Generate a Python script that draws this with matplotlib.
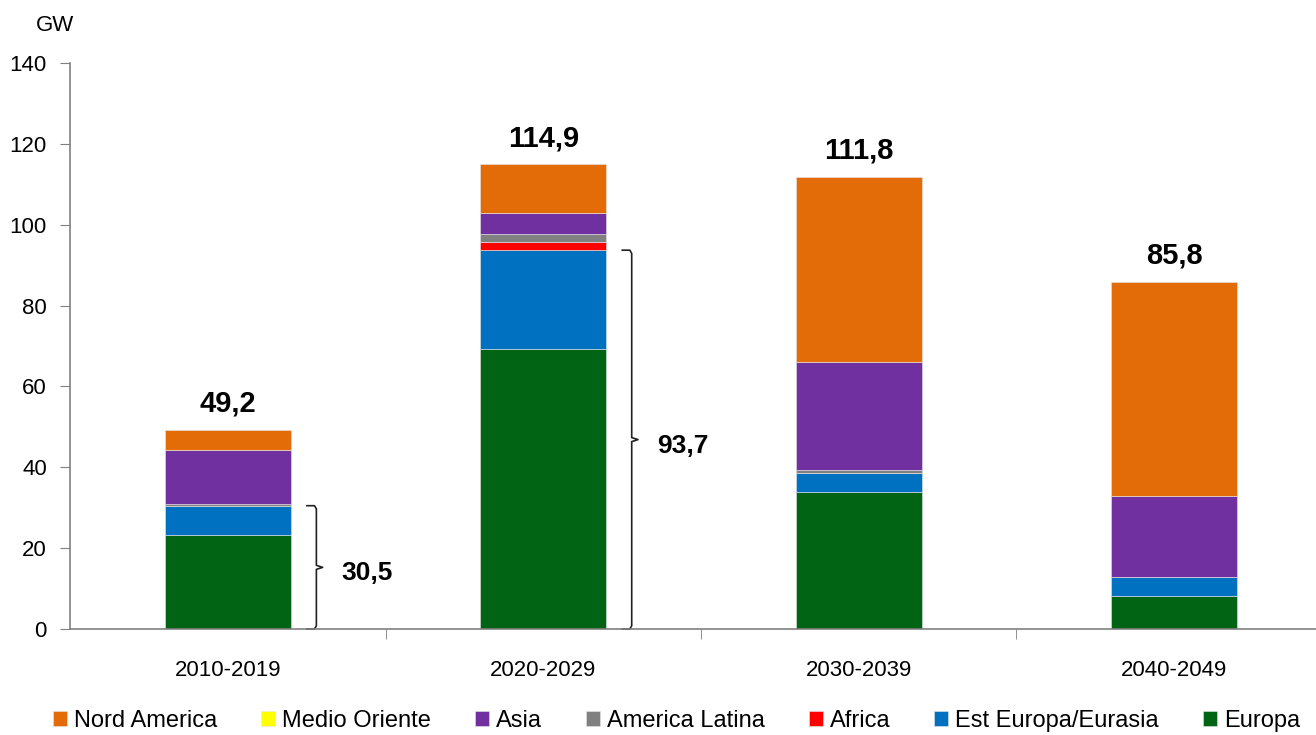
import matplotlib.pyplot as plt
import numpy as np

plt.rcParams['font.family'] = ['Liberation Sans', 'DejaVu Sans']

periods = ['2010-2019', '2020-2029', '2030-2039', '2040-2049']
regions = ['Europa', 'Est Europa/Eurasia', 'Africa', 'America Latina',
           'Asia', 'Medio Oriente', 'Nord America']
colors = ['#006414', '#0070C0', '#FF0000', '#808080',
          '#7030A0', '#FFFF00', '#E36C09']

europa = [23.3, 69.3, 33.8, 8.1]
est_europa = [7.2, 24.4, 4.7, 4.8]
africa = [0.0, 1.9, 0.0, 0.0]
america_latina = [0.4, 2.2, 0.8, 0.0]
asia = [13.5, 5.1, 26.8, 20.1]
medio_oriente = [0.0, 0.0, 0.0, 0.0]
nord_america = [4.8, 12.0, 45.7, 52.8]

totals_lbl = ['49,2', '114,9', '111,8', '85,8']
brace_idx = [0, 1]
brace_lbl = ['30,5', '93,7']

series = [europa, est_europa, africa, america_latina, asia, medio_oriente, nord_america]

fig = plt.figure(figsize=(13.16, 7.35), dpi=100)
ax = fig.add_axes([0.0535, 0.1442, 0.9465, 0.7701])

x = np.arange(len(periods))
w = 0.4
bottom = np.zeros(len(periods))
handles = {}
for name, vals, c in zip(regions, series, colors):
    vals = np.array(vals)
    b = ax.bar(x, vals, w, bottom=bottom, color=c, edgecolor='#e6e6e6',
               linewidth=0.4, label=name)
    handles[name] = b
    bottom += vals

for xi, tot, lbl in zip(x, bottom, totals_lbl):
    ax.text(xi, tot + 3, lbl, ha='center', va='bottom', fontsize=21,
            fontweight='bold')

# curly brackets next to first two bars
for i, lbl in zip(brace_idx, brace_lbl):
    top = europa[i] + est_europa[i]
    mid = top / 2
    edge = x[i] + w / 2
    xh, xv, xn = edge + 0.05, edge + 0.08, edge + 0.1
    ax.plot([xh, xv - 0.006, xv, xv, xn, xv, xv, xv - 0.006, xh],
            [top, top, top - 0.8, mid + 0.5, mid, mid - 0.5, 0.8, 0, 0],
            color='#222222', lw=1.2, clip_on=False)
    ax.text(edge + 0.16, mid - 1.5, lbl, ha='left', va='center',
            fontsize=19, fontweight='bold')

ax.set_ylim(0, 140)
ax.set_yticks(np.arange(0, 141, 20))
ax.set_xlim(-0.5, 3.45)
ax.set_xticks(x)
ax.set_xticklabels(periods, fontsize=16)
ax.set_xticks([0.5, 1.5, 2.5], minor=True)
ax.tick_params(axis='x', which='major', length=0, pad=22)
ax.tick_params(axis='x', which='minor', length=7, color='#808080')
ax.tick_params(axis='y', labelsize=16, length=7, color='#808080', pad=10)
for s in ['top', 'right']:
    ax.spines[s].set_visible(False)
for s in ['left', 'bottom']:
    ax.spines[s].set_color('#808080')
    ax.spines[s].set_linewidth(1.2)

fig.text(0.027, 0.965, 'GW', fontsize=16, ha='left', va='center')

order = ['Nord America', 'Medio Oriente', 'Asia', 'America Latina',
         'Africa', 'Est Europa/Eurasia', 'Europa']
fig.legend([handles[n] for n in order], order, loc='lower center',
           bbox_to_anchor=(0.514, -0.025), ncol=7, frameon=False, fontsize=17,
           handlelength=0.6, handleheight=0.6, handletextpad=0.3,
           columnspacing=1.85)

fig.savefig('out.png', dpi=100)
